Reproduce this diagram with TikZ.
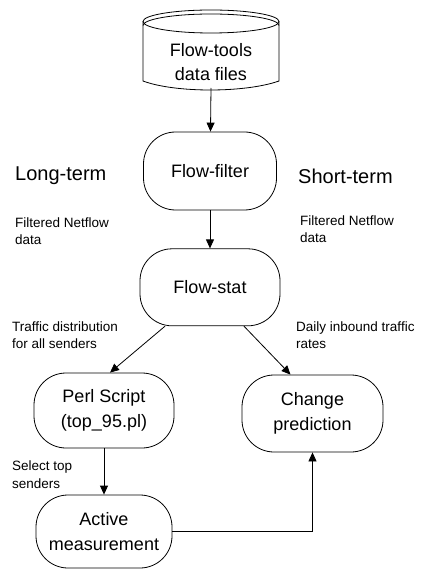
\documentclass[tikz,border=0pt]{standalone}
\usepackage{fontspec}
\setmainfont{Liberation Sans}
\usepackage{tikz}
\usetikzlibrary{positioning,arrows.meta}
\tikzset{
  >={Triangle[length=9pt,width=8pt]},
  procbox/.style={draw,rounded corners=32pt,line width=0.8pt,align=center,
    font=\fontsize{18}{25}\selectfont,inner sep=2pt},
  flow/.style={->,line width=0.8pt},
  flowlbl/.style={anchor=west,align=left,inner sep=0pt,
    font=\fontsize{13.5}{17.5}\selectfont},
  termlbl/.style={anchor=west,inner sep=0pt,font=\fontsize{20}{24}\selectfont},
  dbline/.style={line width=0.8pt},
}
\begin{document}
\begin{tikzpicture}[x=1pt,y=-1pt]
  \useasboundingbox (0,0) rectangle (429,569);
  % data store
  \draw[dbline] (211,21.5) ellipse [x radius=68,y radius=11.5];
  \draw[dbline] (143,21.5) -- (143,81) .. controls (175,93) and (245,93) .. (279,81) -- (279,21.5);
  \draw[dbline] (143,25.5) arc [start angle=180,end angle=360,x radius=68,y radius=11.5];
  \node[align=center,font=\fontsize{18}{24}\selectfont] (files) at (211,62) {Flow-tools\\data files};
  \coordinate (filesout) at (211,88);
  % boxes
  \node[procbox,minimum width=133pt,minimum height=78pt] (filter) at (210,171) {Flow-filter};
  \node[procbox,minimum width=140pt,minimum height=77pt,below=38pt of filter] (stat) {Flow-stat};
  \node[procbox,minimum width=140pt,minimum height=75pt] (perl) at (104,410.5) {Perl Script\\(top\_95.pl)};
  \node[procbox,minimum width=141pt,minimum height=77pt] (change) at (312.5,413.5) {Change\\prediction};
  \node[procbox,minimum width=136pt,minimum height=73pt] (active) at (104,531.5) {Active\\measurement};
  % labels
  \node[termlbl] (longterm) at (15,176) {Long-term};
  \node[termlbl] (shortterm) at (298,176) {Short-term};
  \node[flowlbl] (filtL) at (15,231) {Filtered Netflow\\data};
  \node[flowlbl] (filtR) at (300,229) {Filtered Netflow\\data};
  \node[flowlbl] (distlbl) at (12,335) {Traffic distribution\\for all senders};
  \node[flowlbl] (ratelbl) at (296,335) {Daily inbound traffic\\rates};
  \node[flowlbl] (toplbl) at (12,474.5) {Select top\\senders};
  % connectors
  \draw[flow] (filesout) -- (filter);
  \draw[flow] (filter) -- (stat);
  \draw[flow] ([xshift=-45pt]stat.south) -- ([xshift=6pt]perl.north);
  \draw[flow] ([xshift=34pt]stat.south) -- ([xshift=-22pt]change.north);
  \draw[flow] (perl) -- (active);
  \draw[flow] (active.east) -| (change.south);
\end{tikzpicture}
\end{document}
